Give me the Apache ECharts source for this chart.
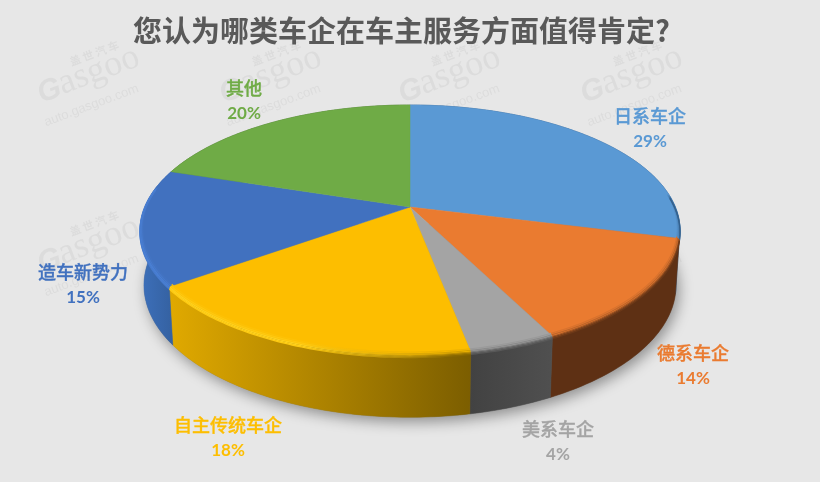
<!DOCTYPE html>
<html><head><meta charset="utf-8">
<style>html,body{margin:0;padding:0;background:#e7e7e7}#c{width:820px;height:482px}</style>
<script src="https://cdn.jsdelivr.net/npm/echarts@6/dist/echarts.min.js"></script>
</head><body><div id="c"></div>
<script>
const chartTitle = '您认为哪类车企在车主服务方面值得肯定?';
const categories = ['日系车企','德系车企','美系车企','自主传统车企','造车新势力','其他'];
const values = [29, 13.6, 4.4, 18, 15, 20];

const topColors  = ['#5a99d4','#ea7b30','#a4a4a4','#fdbe00','#4171bf','#6fab46'];
const sideColors = [['#2f5a85','#2f5a85'],['#5e3014','#5e3014'],['#424242','#505050'],['#e0a900','#7c5e00'],['#3d70bb','#34609f'],['#42692a','#42692a']];
const litColors  = ['#5a99d4','#ea7b30','#a4a4a4','#ffd21e','#4a80d6','#6fab46'];
const sideFrom   = [640,540,470,170,140,170];
const sideTo     = [690,680,555,470,175,300];
const labelAnchors = [[650,129],[693,366],[558,442],[228,438],[83,285],[244,101]];
const watermarkX = [40,222,401,583];
const watermarkY = [128,298];

const topPlane = {cx:410,hub:207,A:120.8,B:265.4};
const botPlane = {cx:410,hub:261,A:127.5,B:261.5};
const K = -0.184;
const total = values.reduce((a,b)=>a+b,0);
const starts = values.map((v,i)=>values.slice(0,i).reduce((a,b)=>a+b,0)/total);
const ends = starts.map((s,i)=>s+values[i]/total);

// frac 0 = 12 o'clock clockwise; y grows downward toward the viewer
function pt(f,p,e,dy){
  const t=f*2*Math.PI,s=Math.sin(t),c=-Math.cos(t),d=1+K*c,sc=1-(e||0);
  return [p.cx+sc*p.B*s/d, p.hub+sc*p.A*c/d+(dy||0)];
}
function arc(a,b,p,e,dy){
  const n=Math.max(2,Math.ceil((b-a)*400)),o=[];
  for(let i=0;i<=n;i++)o.push(pt(a+(b-a)*i/n,p,e,dy));
  return o;
}
function hex(c){return [1,3,5].map(i=>parseInt(c.substr(i,2),16));}
function mix(a,b,t){const x=hex(a),y=hex(b);return 'rgb('+x.map((v,i)=>Math.round(v+(y[i]-v)*t)).join(',')+')';}
function hGrad(x1,x2,stops){return {type:'linear',x:x1,y:0,x2:x2,y2:0,global:true,colorStops:stops};}

const layers=[{e:.010,dy:-1.5,t:.12},{e:.006,dy:-.5,t:.3},{e:.002,dy:.5,t:.5},{e:0,dy:1.5,t:.72},{e:0,dy:2.5,t:.9}];
const litLayers=[.15,.5,.9,1,.6];

const shadowSeries={type:'custom',coordinateSystem:'none',silent:true,animation:false,z:1,data:[[0]],
  renderItem(){return {type:'polygon',shape:{points:arc(.2,.8,botPlane)},
    style:{fill:'#777',shadowBlur:14,shadowColor:'rgba(0,0,0,.38)',shadowOffsetX:3,shadowOffsetY:5}};}};
const sideSeries={type:'custom',coordinateSystem:'none',silent:true,animation:false,z:2,data:values.map((v,i)=>[i]),
  renderItem(par){const i=par.dataIndex;
    const pts=arc(starts[i],ends[i],topPlane).concat(arc(starts[i],ends[i],botPlane).reverse());
    const g=hGrad(sideFrom[i],sideTo[i],[{offset:0,color:sideColors[i][0]},{offset:1,color:sideColors[i][1]}]);
    return {type:'polygon',shape:{points:pts},style:{fill:g,stroke:g,lineWidth:.5}};}};
const topSeries={type:'custom',coordinateSystem:'none',silent:true,animation:false,z:3,data:values.map((v,i)=>[i]),
  renderItem(par){const i=par.dataIndex;
    const pts=[[topPlane.cx,topPlane.hub]].concat(arc(starts[i],ends[i],topPlane));
    return {type:'polygon',shape:{points:pts},style:{fill:topColors[i],stroke:topColors[i],lineWidth:.5}};}};
const bevelSeries={type:'custom',coordinateSystem:'none',silent:true,animation:false,z:4,data:values.map((v,i)=>[i]),
  renderItem(par){const i=par.dataIndex,a=Math.max(starts[i],.235),b=Math.min(ends[i],.775);
    if(b<=a)return null;
    const side=sideColors[i][1];
    return {type:'group',children:layers.map((l,j)=>({type:'polyline',shape:{points:arc(a,b,topPlane,l.e,l.dy)},
      style:{fill:null,lineWidth:1.3,stroke:hGrad(140,680,[
        {offset:0,color:mix(topColors[i],litColors[i],litLayers[j])},
        {offset:.3,color:mix(topColors[i],litColors[i],litLayers[j])},
        {offset:.58,color:mix(topColors[i],side,l.t)},
        {offset:1,color:mix(topColors[i],side,l.t)}])}}))};}};
const labelSeries={type:'custom',coordinateSystem:'none',silent:true,animation:false,z:6,data:values.map((v,i)=>[i]),
  renderItem(par){const i=par.dataIndex,[x,y]=labelAnchors[i];
    return {type:'group',children:[
      {type:'text',style:{x:x,y:y-13,text:categories[i],align:'center',verticalAlign:'middle',fill:topColors[i],
        stroke:topColors[i],lineWidth:.35,font:'500 18px "Noto Sans CJK SC"'}},
      {type:'text',style:{x:x,y:y+13,text:Math.round(values[i])+'%',align:'center',verticalAlign:'middle',fill:topColors[i],
        font:'700 17px "Lato"'}}
    ]};}};

const wmColor='rgba(90,90,90,0.075)';
const wm=[];
watermarkY.forEach(y=>watermarkX.forEach(x=>{
  wm.push({type:'group',x:x,y:y-12,rotation:0.355,silent:true,z:5,children:[
    {type:'text',style:{x:6,y:-20,text:'G',font:'italic 700 30px "Liberation Sans"',fill:wmColor,verticalAlign:'middle'}},
    {type:'text',style:{x:29,y:-22,text:'asgoo',font:'36px "Liberation Serif"',fill:wmColor,verticalAlign:'middle'}},
    {type:'text',style:{x:47,y:-40,text:'盖 世 汽 车',font:'700 11px "Noto Sans CJK SC"',fill:wmColor,verticalAlign:'middle'}},
    {type:'text',style:{x:2,y:8,text:'auto.gasgoo.com',font:'13px "Liberation Sans"',fill:wmColor,verticalAlign:'middle'}}
  ]});
}));

const chart=echarts.init(document.getElementById('c'),null,{renderer:'canvas'});
chart.setOption({
  animation:false,
  backgroundColor:'#e7e7e7',
  title:{text:chartTitle,left:128,top:11,textStyle:{color:'#595959',fontSize:29,fontWeight:700,fontFamily:'"Noto Sans CJK SC"'}},
  graphic:wm,
  series:[shadowSeries,sideSeries,topSeries,bevelSeries,labelSeries]
});
</script></body></html>
